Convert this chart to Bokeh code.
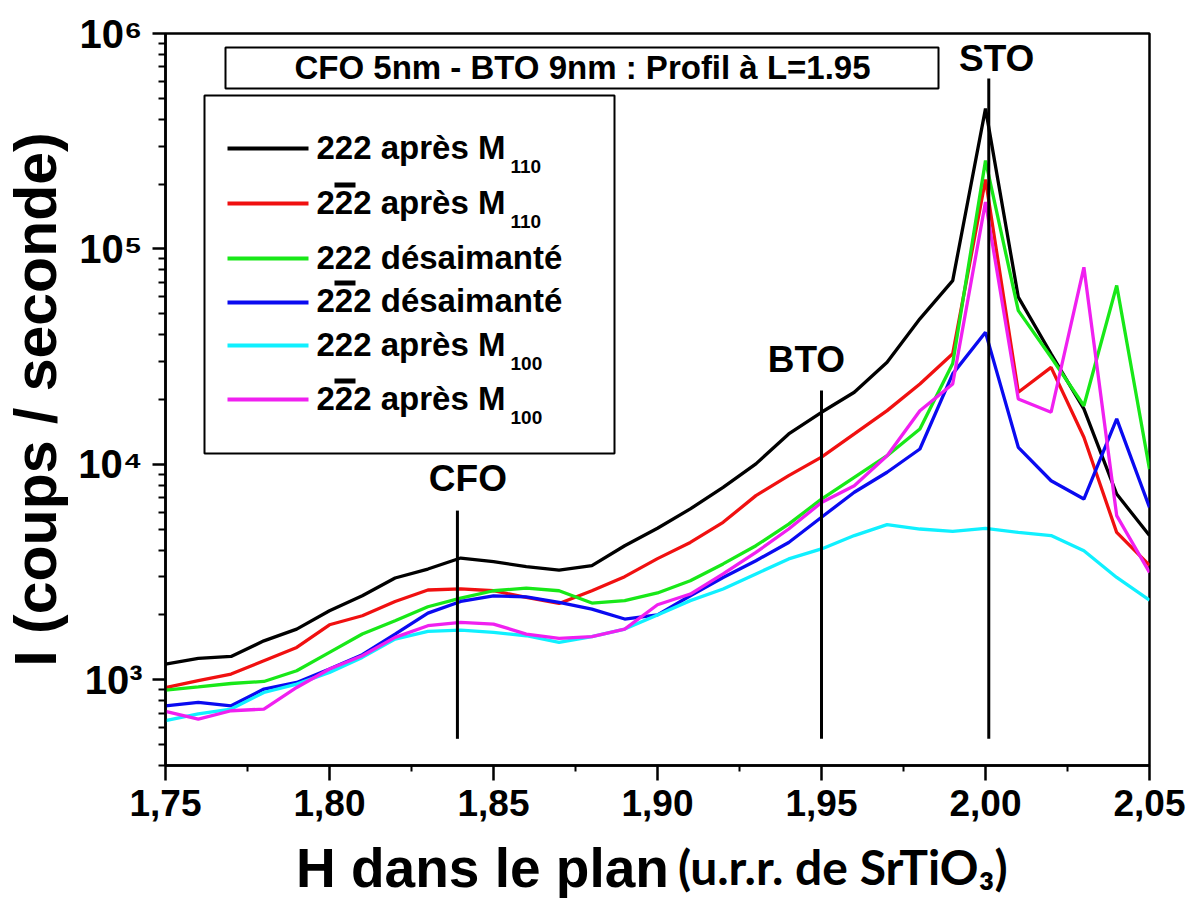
from bokeh.plotting import figure
from bokeh.layouts import column
from bokeh.models import (FixedTicker, Label, BoxAnnotation, Range1d, Div,
                          CustomJSTickFormatter, ColumnDataSource)
from bokeh.core.properties import value
from bokeh.embed import file_html
from bokeh.resources import INLINE

# ---------------- data ----------------
H = [1.75, 1.76, 1.77, 1.78, 1.79, 1.80, 1.81, 1.82, 1.83, 1.84, 1.85,
     1.86, 1.87, 1.88, 1.89, 1.90, 1.91, 1.92, 1.93, 1.94, 1.95, 1.96,
     1.97, 1.98, 1.99, 2.00, 2.01, 2.02, 2.03, 2.04, 2.05]

s222_M110 = [1183, 1256, 1283, 1516, 1719, 2091, 2454, 2967, 3266, 3673, 3534,
             3350, 3230, 3388, 4190, 5050, 6210, 7820, 10050, 13840, 17450,
             21610, 29800, 47350, 71300, 448000, 59700, 32600, 18100, 7280, 4670]
s2b22_M110 = [920, 990, 1063, 1225, 1413, 1800, 1983, 2310, 2610, 2640, 2590,
              2410, 2260, 2590, 3010, 3650, 4340, 5380, 7160, 8870, 10800,
              13840, 17760, 23600, 32600, 210000, 21600, 28200, 13350, 4830, 3400]
s222_des = [896, 927, 961, 982, 1101, 1340, 1630, 1879, 2183, 2393, 2590,
            2665, 2590, 2270, 2330, 2530, 2880, 3450, 4190, 5280, 6900,
            8710, 10970, 14590, 29400, 257000, 51700, 31400, 18700, 67600, 9500]
s2b22_des = [757, 785, 757, 906, 972, 1122, 1307, 1630, 2040, 2310, 2454,
             2427, 2285, 2128, 1914, 2000, 2455, 2985, 3570, 4340, 5680,
             7420, 9190, 11780, 26300, 41000, 12000, 8390, 6900, 16260, 6310]
s222_M100 = [646, 694, 731, 873, 955, 1082, 1270, 1545, 1676, 1700, 1660,
             1601, 1490, 1585, 1719, 2000, 2330, 2640, 3100, 3640, 4050,
             4670, 5250, 5010, 4890, 5040, 4830, 4670, 3970, 2985, 2340]
s2b22_M100 = [713, 657, 718, 731, 921, 1122, 1292, 1573, 1782, 1846, 1814,
              1630, 1556, 1585, 1719, 2230, 2500, 3100, 3900, 5010, 6650,
              7960, 10970, 17750, 23600, 165000, 20100, 17450, 82200, 5780, 3150]

series = [s222_M110, s2b22_M110, s222_des, s2b22_des, s222_M100, s2b22_M100]
colors = ["#000000", "#f01010", "#18e818", "#0a0af0", "#10f0ff", "#f020f0"]
legend_main = ["222 après M", "222 après M", "222 désaimanté",
               "222 désaimanté", "222 après M", "222 après M"]
legend_sub = ["110", "110", "", "", "100", "100"]
legend_bar = [False, True, False, True, False, True]

peak_names = ["CFO", "BTO", "STO"]
peak_H = [1.839, 1.95, 2.001]
peak_top = [6100, 22000, 618000]
peak_bottom = [532, 532, 532]
peak_label_H = [1.8422, 1.9454, 2.0034]
peak_label_y = [8570, 30560, 765000]

x_ticks = [1.75, 1.80, 1.85, 1.90, 1.95, 2.00, 2.05]
x_minor = [1.775, 1.825, 1.875, 1.925, 1.975, 2.025]
y_ticks = [1e3, 1e4, 1e5, 1e6]

title_text = "CFO 5nm - BTO 9nm : Profil à L=1.95"
ylabel_text = "I (coups / seconde)"
xlabel_main = "H dans le plan"
xlabel_unit = "(u.r.r. de SrTiO₃)"

# ---------------- layout ----------------
BL, BT, BR, BB = 165, 33, 40, 70
FW, FH = 984, 732
W, HC = BL + FW + BR, BT + FH + BB
FRAME_LEFT, FRAME_BOTTOM = BL, BT + FH   # page pixel of frame origin

FONT = "Liberation Sans"

p = figure(frame_width=FW, frame_height=FH, min_border_left=BL, min_border_top=BT,
           min_border_right=BR, min_border_bottom=BB,
           x_range=Range1d(1.75, 2.05), y_range=Range1d(400, 1e6),
           y_axis_type="log", output_backend="svg", toolbar_location=None,
           background_fill_color="white", border_fill_color="white")
p.xgrid.visible = False
p.ygrid.visible = False
p.outline_line_color = "black"
p.outline_line_width = 2.5
p.outline_line_alpha = 1

# screen units are measured from the frame's bottom-left corner, y upwards
def sx(px):
    return px - FRAME_LEFT

def sy(py):
    return FRAME_BOTTOM - py

def sbox(left, right, top, bottom, **kw):
    return BoxAnnotation(left=sx(left), right=sx(right), top=sy(top), bottom=sy(bottom),
                         left_units="screen", right_units="screen",
                         top_units="screen", bottom_units="screen", **kw)

def slabel(x, baseline, text, fs, **kw):
    # rendered baseline sits ~0.38 em below the anchor: compensate
    return Label(x=sx(x), y=sy(baseline - 0.38 * fs), x_units="screen", y_units="screen",
                 text=text, text_color="black", text_baseline="alphabetic",
                 text_font_size=f"{fs}px", **kw)

# axes
for ax in (p.xaxis[0], p.yaxis[0]):
    ax.axis_line_width = 2.5
    ax.major_tick_line_width = 2.5
    ax.minor_tick_line_width = 2
    ax.major_tick_in = 0
    ax.minor_tick_in = 0
    ax.major_label_text_font = FONT
    ax.major_label_text_font_style = "bold"
    ax.major_label_text_color = "black"
    ax.major_tick_line_color = "black"
    ax.minor_tick_line_color = "black"
    ax.axis_line_color = "black"

p.xaxis.ticker = FixedTicker(ticks=x_ticks, minor_ticks=x_minor)
p.xaxis.formatter = CustomJSTickFormatter(code="return tick.toFixed(2).replace('.', ',');")
p.xaxis.major_tick_out = 15
p.xaxis.minor_tick_out = 6
p.xaxis.major_label_text_font_size = "37px"
p.xaxis.major_label_standoff = 9

y_minor = [m * 10 ** e for e in range(2, 6) for m in range(2, 10) if 400 <= m * 10 ** e <= 1e6]
p.yaxis.ticker = FixedTicker(ticks=y_ticks, minor_ticks=y_minor)
p.yaxis.formatter = CustomJSTickFormatter(code="""
const sup = {'0':'\u2070','1':'\u00b9','2':'\u00b2','3':'\u00b3','4':'\u2074',
             '5':'\u2075','6':'\u2076','7':'\u2077','8':'\u2078','9':'\u2079'};
const e = Math.round(Math.log10(tick));
return '10' + String(e).split('').map(c => sup[c]).join('');
""")
p.yaxis.major_tick_out = 13
p.yaxis.minor_tick_out = 7
p.yaxis.major_label_text_font_size = "40px"
p.yaxis.major_label_standoff = 10
p.yaxis.axis_label = ylabel_text
p.yaxis.axis_label_text_font = FONT
p.yaxis.axis_label_text_font_style = "bold"
p.yaxis.axis_label_text_font_size = "59px"
p.yaxis.axis_label_text_color = "black"
p.yaxis.axis_label_standoff = 6

# data lines
for vals, col in zip(series, colors):
    p.line(H, vals, line_color=col, line_width=3.3)

# peak marker lines and labels
p.segment(x0=peak_H, y0=peak_bottom, x1=peak_H, y1=peak_top,
          line_color="black", line_width=3)
src = ColumnDataSource(dict(x=peak_label_H, y=peak_label_y, t=peak_names))
p.text(x="x", y="y", text="t", source=src, text_font=value(FONT),
       text_font_style="bold", text_font_size="37px", text_align="center",
       text_baseline="alphabetic", text_color="black")

# title box
p.add_layout(sbox(225, 938, 47, 88, fill_color="white", fill_alpha=1,
                  line_color="black", line_alpha=1, line_width=2))
p.add_layout(slabel(582, 80, title_text, 33, text_font=FONT, text_font_style="bold",
                    text_align="center"))

# legend box
p.add_layout(sbox(204, 614, 95, 453, fill_color="white", fill_alpha=1,
                  line_color="black", line_alpha=1, line_width=2))
line_y = [148, 203, 258, 302, 345, 399]
base_y = [160, 215, 270, 313, 357, 411]
for ly, by, col, txt, sub, bar in zip(line_y, base_y, colors, legend_main,
                                      legend_sub, legend_bar):
    p.add_layout(sbox(227, 308, ly - 2, ly + 2, fill_color=col, fill_alpha=1,
                      line_alpha=0))
    p.add_layout(slabel(316, by, txt, 33, text_font=FONT, text_font_style="bold",
                        text_align="left"))
    if sub:
        p.add_layout(slabel(510, by + 13, sub, 19, text_font=FONT,
                            text_font_style="bold", text_align="left"))
    if bar:
        p.add_layout(sbox(334, 355, by - 33, by - 28, fill_color="black",
                          fill_alpha=1, line_alpha=0))

# x axis label (two fonts) as an HTML strip under the plot
# baselines: main ~887px, unit ~886px (page); strip starts at HC
STRIP_H = 63
main_top = 887 - 46 - HC
unit_top = 886 - 43 - HC
xlabel_html = (
    '<div style="position:relative;width:%dpx;height:%dpx;white-space:nowrap;overflow:visible;">'
    '<span style="position:absolute;left:296px;top:%dpx;font-family:\'Liberation Sans\';'
    'font-weight:bold;font-size:55px;line-height:1;color:black;">%s</span>'
    '<span style="position:absolute;left:678px;top:%dpx;font-family:Lato;'
    'font-weight:bold;font-size:48px;line-height:1;color:black;">%s</span>'
    '</div>' % (W, STRIP_H, main_top, xlabel_main, unit_top, xlabel_unit)
)
xdiv = Div(text=xlabel_html, width=W, height=STRIP_H, margin=(0, 0, 0, 0))

layout = column(p, xdiv, spacing=0)
open("out.html", "w").write(file_html(layout, INLINE))
